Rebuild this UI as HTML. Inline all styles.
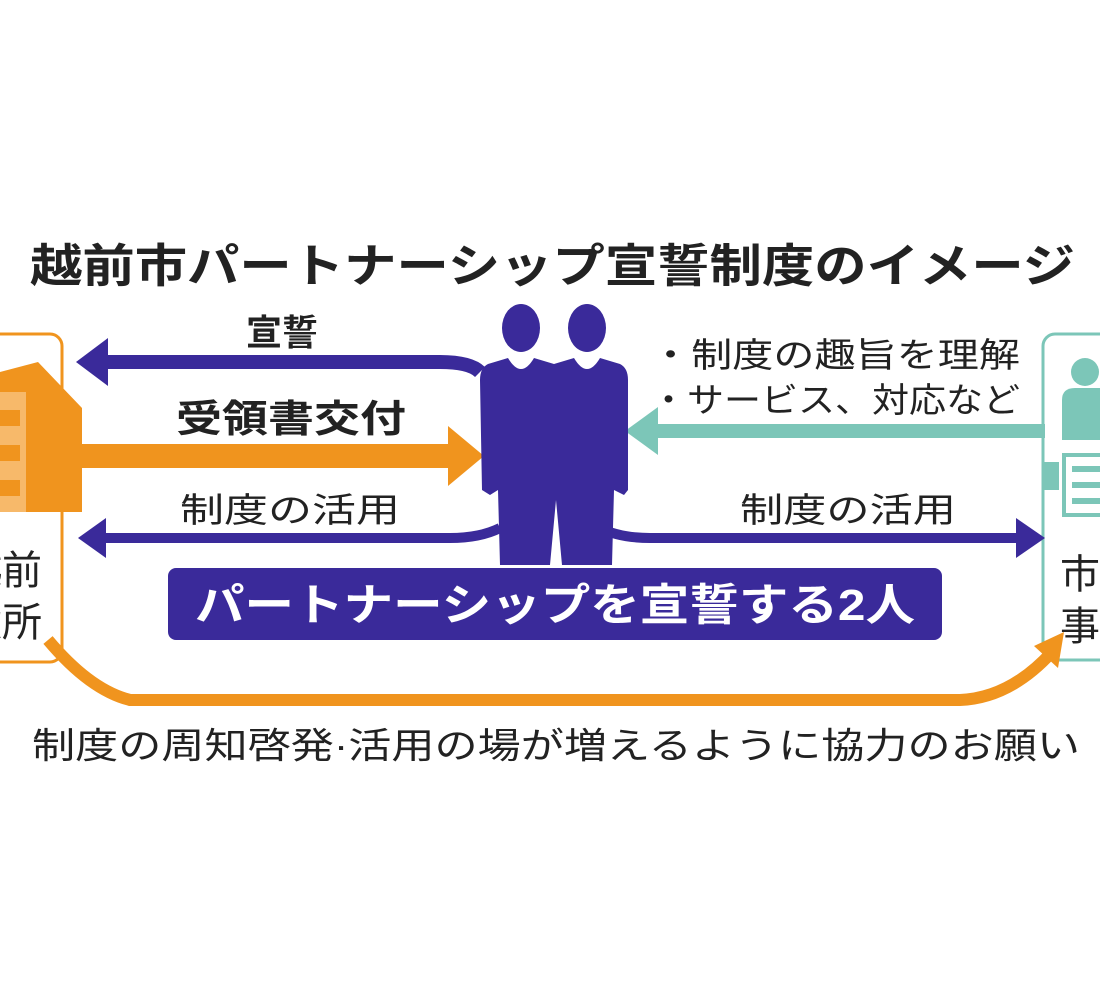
<!DOCTYPE html>
<html><head><meta charset="utf-8"><style>
html,body{margin:0;padding:0;background:#fff;width:1100px;height:1000px;overflow:hidden}
svg text{font-family:"Liberation Sans","Noto Sans CJK JP",sans-serif}
</style></head><body>
<svg width="1100" height="1000" viewBox="0 0 1100 1000" xmlns="http://www.w3.org/2000/svg">
<rect width="1100" height="1000" fill="#fff"/>
<!-- title -->
<text x="30" y="282" font-size="46" font-weight="bold" fill="#222" textLength="1045" lengthAdjust="spacingAndGlyphs">越前市パートナーシップ宣誓制度のイメージ</text>

<!-- left box -->
<rect x="-20" y="334" width="82" height="328" rx="12" fill="#fff" stroke="#f0941e" stroke-width="3"/>
<polygon points="0,372 38,362 82,408 82,512 0,512" fill="#f0941e"/>
<rect x="0" y="392" width="26" height="120" fill="#f7b96a"/>
<rect x="0" y="410" width="20" height="16" fill="#f0941e"/>
<rect x="0" y="445" width="20" height="16" fill="#f0941e"/>
<rect x="0" y="480" width="20" height="16" fill="#f0941e"/>
<text x="42" y="584" font-size="40" fill="#222" text-anchor="end">越前</text>
<text x="42" y="636" font-size="40" fill="#222" text-anchor="end">市役所</text>

<!-- right box -->
<rect x="1043" y="334" width="90" height="326" rx="12" fill="#fff" stroke="#7cc6b8" stroke-width="3"/>
<circle cx="1085" cy="372" r="14" fill="#7cc6b8"/>
<path d="M1062 440 L1062 400 Q1062 388 1075 388 L1100 388 L1100 440 Z" fill="#7cc6b8"/>
<rect x="1064" y="455" width="40" height="60" fill="#fff" stroke="#7cc6b8" stroke-width="4"/>
<rect x="1072" y="466" width="30" height="6" fill="#7cc6b8"/>
<rect x="1072" y="482" width="30" height="6" fill="#7cc6b8"/>
<rect x="1072" y="498" width="30" height="6" fill="#7cc6b8"/>
<rect x="1043" y="462" width="16" height="28" fill="#7cc6b8"/>
<text x="1060" y="588" font-size="40" fill="#222">市民</text>
<text x="1060" y="640" font-size="40" fill="#222">事業所</text>

<!-- 宣誓 arrow -->
<path d="M480 372 Q470 362 440 362 L105 362" fill="none" stroke="#3a2a9a" stroke-width="14"/>
<polygon points="76,362 108,338 108,386" fill="#3a2a9a"/>
<text x="246" y="345" font-size="36" font-weight="bold" fill="#222">宣誓</text>

<!-- 受領書交付 arrow -->
<rect x="82" y="444" width="370" height="24" fill="#f0941e"/>
<polygon points="484,456 448,426 448,486" fill="#f0941e"/>
<text x="176" y="432" font-size="38" font-weight="bold" fill="#222" textLength="230" lengthAdjust="spacingAndGlyphs">受領書交付</text>

<!-- 制度の活用 left -->
<path d="M500 528 Q480 538 450 538 L105 538" fill="none" stroke="#3a2a9a" stroke-width="10"/>
<polygon points="78,538 106,518 106,558" fill="#3a2a9a"/>
<text x="180" y="522" font-size="34" fill="#222" textLength="220" lengthAdjust="spacingAndGlyphs">制度の活用</text>

<!-- 制度の活用 right -->
<path d="M600 528 Q620 538 650 538 L1018 538" fill="none" stroke="#3a2a9a" stroke-width="10"/>
<polygon points="1045,538 1016,518 1016,558" fill="#3a2a9a"/>
<text x="740" y="522" font-size="34" fill="#222" textLength="216" lengthAdjust="spacingAndGlyphs">制度の活用</text>

<!-- teal arrow -->
<rect x="655" y="424" width="390" height="14" fill="#7cc6b8"/>
<polygon points="625,431 658,407 658,455" fill="#7cc6b8"/>
<text x="650" y="367" font-size="34" fill="#222" textLength="370" lengthAdjust="spacingAndGlyphs">・制度の趣旨を理解</text>
<text x="650" y="412" font-size="34" fill="#222" textLength="370" lengthAdjust="spacingAndGlyphs">・サービス、対応など</text>

<!-- persons -->
<g fill="#3a2a9a">
<ellipse cx="521" cy="328" rx="19" ry="24"/>
<ellipse cx="587" cy="328" rx="19" ry="24"/>
<path d="M488 364 L508 358 Q521 380 534 358 L554 364 L574 358 Q587 380 600 358 L620 364 Q628 368 628 380 L628 490 L624 495 L614 490 L612 565 L562 565 L556 500 L550 565 L500 565 L498 490 L490 495 L482 490 L480 380 Q480 368 488 364 Z"/>
</g>

<!-- banner -->
<rect x="168" y="568" width="774" height="72" rx="8" fill="#3a2a9a"/>
<text x="555" y="620" font-size="44" font-weight="bold" fill="#fff" text-anchor="middle" textLength="720" lengthAdjust="spacingAndGlyphs">パートナーシップを宣誓する2人</text>

<!-- orange bottom curve -->
<path d="M48 640 Q90 690 130 700 L960 700 Q1010 698 1052 652" fill="none" stroke="#f0941e" stroke-width="12"/>
<polygon points="1064,632 1034,646 1058,668" fill="#f0941e"/>

<text x="32" y="758" font-size="36" fill="#222" textLength="1048" lengthAdjust="spacingAndGlyphs">制度の周知啓発·活用の場が増えるように協力のお願い</text>
</svg>
</body></html>
